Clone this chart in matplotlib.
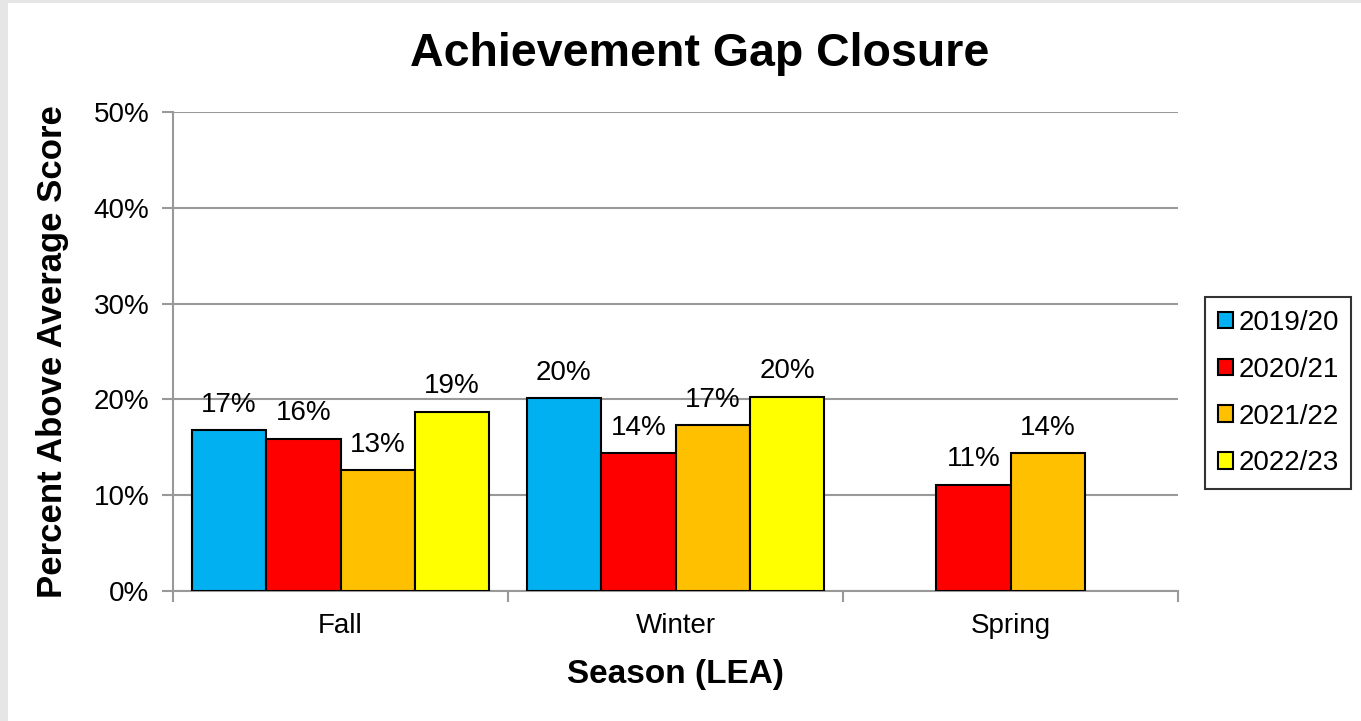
import numpy as np
import matplotlib
matplotlib.use('Agg')
import matplotlib.pyplot as plt
from matplotlib.patches import Rectangle

# chart data
seasons = ['Fall', 'Winter', 'Spring']
years = ['2019/20', '2020/21', '2021/22', '2022/23']
v2019 = [16.8, 20.1, np.nan]
v2020 = [15.9, 14.4, 11.1]
v2021 = [12.6, 17.3, 14.4]
v2022 = [18.7, 20.3, np.nan]
colors = ['#00b0f0', '#ff0000', '#ffc000', '#ffff00']

plt.rcParams['font.family'] = ['Liberation Sans', 'DejaVu Sans']

fig = plt.figure(figsize=(13.61, 7.21), dpi=100)
fig.patch.set_facecolor('#e6e6e6')
# white page inside the light gray frame
fig.patches.append(Rectangle((8 / 1361, 0), 1, 1 - 3 / 721, transform=fig.transFigure,
                             facecolor='white', edgecolor='none', zorder=-10))

ax = fig.add_axes([173 / 1361, 1 - 591 / 721, (1178 - 173) / 1361, (591 - 112) / 721])
ax.set_facecolor('white')

x = np.arange(len(seasons))
w = 1 / 4.5
series = [v2019, v2020, v2021, v2022]
for i, vals in enumerate(series):
    pos = x + (i - 1.5) * w
    ax.bar(pos, vals, width=w, color=colors[i], edgecolor='black',
           linewidth=1.5, label=years[i], zorder=3)
    for xp, v in zip(pos, vals):
        if not np.isnan(v):
            ax.annotate('%d%%' % round(v), (xp, v), xytext=(0, 9), textcoords='offset points',
                        ha='center', va='bottom', fontsize=20, zorder=4)

ax.set_xlim(-0.5, 2.5)
ax.set_ylim(0, 50)
ax.set_yticks(np.arange(0, 51, 10))
ax.set_yticklabels(['%d%%' % t for t in range(0, 51, 10)], fontsize=20)
ax.yaxis.grid(True, color='#999999', linewidth=1.5, zorder=0)
ax.set_axisbelow(True)

ax.set_xticks(x)
ax.set_xticklabels(seasons, fontsize=20)
ax.tick_params(axis='x', which='major', length=0, pad=16)
ax.set_xticks([-0.5, 0.5, 1.5, 2.5], minor=True)
ax.tick_params(axis='x', which='minor', length=8, width=1.5, color='#999999')
ax.tick_params(axis='y', length=8, width=1.5, color='#999999', pad=9)

for s in ['top', 'right']:
    ax.spines[s].set_visible(False)
for s in ['left', 'bottom']:
    ax.spines[s].set_color('#999999')
    ax.spines[s].set_linewidth(1.5)

ax.set_title('Achievement Gap Closure', fontsize=33.5, fontweight='bold', pad=33, x=0.524)
ax.set_xlabel('Season (LEA)', fontsize=24, fontweight='bold', labelpad=14)
ax.set_ylabel('Percent Above Average Score', fontsize=25, fontweight='bold', labelpad=18)

leg = ax.legend(loc='center left', bbox_to_anchor=(1.027, 0.413), fontsize=20,
                frameon=True, fancybox=False, edgecolor='black', handlelength=0.55,
                handleheight=0.55, handletextpad=0.2, labelspacing=0.75, borderpad=0.45,
                borderaxespad=0)
leg.get_frame().set_linewidth(1.5)

fig.savefig('out.png', dpi=100, facecolor=fig.get_facecolor())
